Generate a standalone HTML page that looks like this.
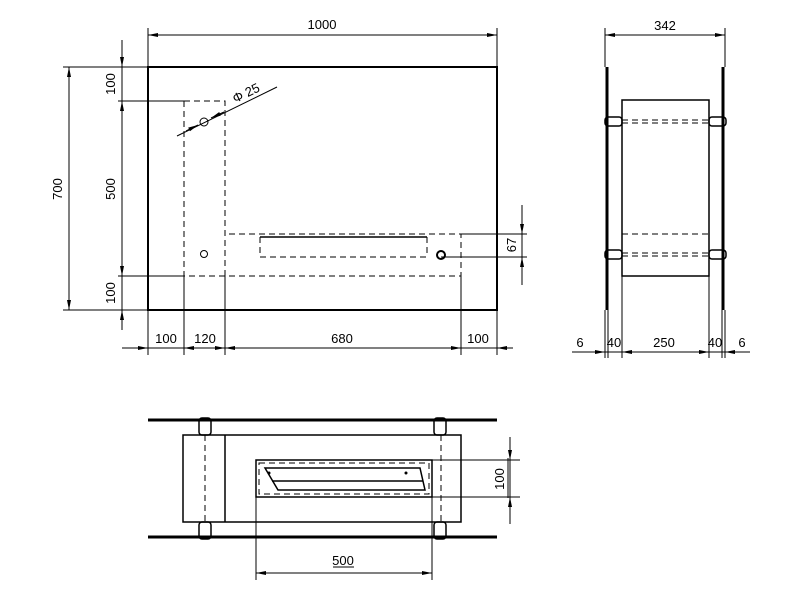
<!DOCTYPE html>
<html><head><meta charset="utf-8"><style>html,body{margin:0;padding:0;background:#fff}svg{display:block}</style></head>
<body>
<svg width="800" height="600" viewBox="0 0 800 600" xmlns="http://www.w3.org/2000/svg" font-family="Liberation Sans, sans-serif" font-size="13" fill="none" stroke="#000">
<defs>
<marker id="a" markerWidth="10" markerHeight="6" refX="10" refY="3" orient="auto-start-reverse" markerUnits="userSpaceOnUse"><path d="M0,1 L10,3 L0,5z" fill="#000" stroke="none"/></marker>
</defs>
<!-- FRONT VIEW -->
<rect x="148" y="67" width="349" height="243" stroke-width="2"/>
<g stroke-width="1">
<line x1="148" y1="28" x2="148" y2="67"/><line x1="497" y1="28" x2="497" y2="67"/>
<line x1="148" y1="35" x2="497" y2="35" marker-start="url(#a)" marker-end="url(#a)"/>
<line x1="63" y1="67" x2="148" y2="67"/><line x1="63" y1="310" x2="148" y2="310"/>
<line x1="69" y1="67" x2="69" y2="310" marker-start="url(#a)" marker-end="url(#a)"/>
<line x1="118" y1="101" x2="185" y2="101"/><line x1="118" y1="276" x2="185" y2="276"/>
<line x1="122" y1="40" x2="122" y2="330"/>
<line x1="122" y1="55" x2="122" y2="67" marker-end="url(#a)"/>
<line x1="122" y1="115" x2="122" y2="101" marker-end="url(#a)"/>
<line x1="122" y1="262" x2="122" y2="276" marker-end="url(#a)"/>
<line x1="122" y1="322" x2="122" y2="310" marker-end="url(#a)"/>
<line x1="148" y1="310" x2="148" y2="355"/><line x1="184" y1="276" x2="184" y2="355"/><line x1="225" y1="276" x2="225" y2="355"/><line x1="461" y1="276" x2="461" y2="355"/><line x1="497" y1="310" x2="497" y2="355"/>
<line x1="122" y1="348" x2="148" y2="348" marker-end="url(#a)"/>
<line x1="148" y1="348" x2="513" y2="348"/>
<line x1="198" y1="348" x2="184" y2="348" marker-end="url(#a)"/>
<line x1="211" y1="348" x2="225" y2="348" marker-end="url(#a)"/>
<line x1="239" y1="348" x2="225" y2="348" marker-end="url(#a)"/>
<line x1="447" y1="348" x2="461" y2="348" marker-end="url(#a)"/>
<line x1="513" y1="348" x2="497" y2="348" marker-end="url(#a)"/>
<line x1="177" y1="136" x2="277" y2="87"/>
<line x1="186" y1="131" x2="198" y2="125" marker-end="url(#a)"/>
<line x1="224" y1="112" x2="211" y2="118" marker-end="url(#a)"/>
<circle cx="204" cy="122" r="4"/><circle cx="204" cy="254" r="3.5"/><circle cx="441" cy="255" r="4" stroke-width="2"/>
<line x1="441" y1="257" x2="527" y2="257"/><line x1="461" y1="234" x2="527" y2="234"/>
<line x1="522" y1="205" x2="522" y2="285"/>
<line x1="522" y1="220" x2="522" y2="234" marker-end="url(#a)"/>
<line x1="522" y1="271" x2="522" y2="257" marker-end="url(#a)"/>
</g>
<g stroke-width="1" stroke-dasharray="6,4">
<path d="M184,101 H225 V276 M184,101 V276 H461 V234 H225"/>
<path d="M260,237 H427 M260,257 H427 M260,237 V257 M427,237 V257"/>
</g>
<line x1="260" y1="237" x2="427" y2="237" stroke-width="1.5"/>
<g fill="#000" stroke="none" font-size="13">
<text x="322" y="29" text-anchor="middle">1000</text>
<text transform="translate(62,189) rotate(-90)" text-anchor="middle">700</text>
<text transform="translate(115,84) rotate(-90)" text-anchor="middle">100</text>
<text transform="translate(115,189) rotate(-90)" text-anchor="middle">500</text>
<text transform="translate(115,293) rotate(-90)" text-anchor="middle">100</text>
<text transform="translate(516,245) rotate(-90)" text-anchor="middle">67</text>
<text x="166" y="343" text-anchor="middle">100</text>
<text x="205" y="343" text-anchor="middle">120</text>
<text x="342" y="343" text-anchor="middle">680</text>
<text x="478" y="343" text-anchor="middle">100</text>
<text transform="translate(248,97) rotate(-26)" text-anchor="middle">Φ 25</text>
</g>
<!-- SIDE VIEW -->
<g stroke-width="1">
<line x1="605" y1="28" x2="605" y2="67"/><line x1="725" y1="28" x2="725" y2="67"/>
<line x1="605" y1="35" x2="725" y2="35" marker-start="url(#a)" marker-end="url(#a)"/>
<rect x="622" y="100" width="87" height="176" stroke-width="1.5"/>
<line x1="605" y1="310" x2="605" y2="358"/><line x1="608" y1="310" x2="608" y2="358"/>
<line x1="622" y1="276" x2="622" y2="358"/><line x1="709" y1="276" x2="709" y2="358"/>
<line x1="722" y1="310" x2="722" y2="358"/><line x1="725" y1="310" x2="725" y2="358"/>
<line x1="572" y1="352" x2="750" y2="352"/>
<line x1="590" y1="352" x2="605" y2="352" marker-end="url(#a)"/>
<line x1="636" y1="352" x2="622" y2="352" marker-end="url(#a)"/>
<line x1="695" y1="352" x2="709" y2="352" marker-end="url(#a)"/>
<line x1="740" y1="352" x2="725" y2="352" marker-end="url(#a)"/>
</g>
<g stroke-width="3">
<line x1="607" y1="67" x2="607" y2="310"/><line x1="723" y1="67" x2="723" y2="310"/>
</g>
<g stroke-width="1.5">
<rect x="605" y="117" width="17" height="9" rx="3"/><rect x="709" y="117" width="17" height="9" rx="3"/>
<rect x="605" y="250" width="17" height="9" rx="3"/><rect x="709" y="250" width="17" height="9" rx="3"/>
</g>
<g stroke-width="1" stroke-dasharray="6,4">
<path d="M622,120 H709 M622,123 H709 M622,234 H709 M622,253 H709 M622,256 H709"/>
</g>
<g fill="#000" stroke="none">
<text x="665" y="30" text-anchor="middle">342</text>
<text x="580" y="347" text-anchor="middle">6</text>
<text x="614" y="347" text-anchor="middle">40</text>
<text x="664" y="347" text-anchor="middle">250</text>
<text x="715" y="347" text-anchor="middle">40</text>
<text x="742" y="347" text-anchor="middle">6</text>
</g>
<!-- TOP VIEW -->
<g stroke-width="3">
<line x1="148" y1="420" x2="497" y2="420"/><line x1="148" y1="537" x2="497" y2="537"/>
</g>
<g stroke-width="1.5">
<rect x="183" y="435" width="278" height="87"/>
<line x1="225" y1="435" x2="225" y2="522"/>
<rect x="256" y="460" width="176" height="37"/>
<rect x="199" y="418" width="12" height="17" rx="3"/><rect x="434" y="418" width="12" height="17" rx="3"/>
<rect x="199" y="522" width="12" height="17" rx="3"/><rect x="434" y="522" width="12" height="17" rx="3"/>
<path d="M265,468 H420 L425,490 H278 Z"/>
<line x1="272" y1="481" x2="423" y2="481"/>
</g>
<g stroke-width="1" stroke-dasharray="6,4">
<line x1="205" y1="435" x2="205" y2="522"/><line x1="441" y1="435" x2="441" y2="522"/>
<rect x="259" y="463" width="170" height="31"/>
</g>
<g stroke-width="1">
<line x1="432" y1="460" x2="520" y2="460"/><line x1="432" y1="497" x2="520" y2="497"/>
<line x1="510" y1="437" x2="510" y2="524"/>
<line x1="510" y1="446" x2="510" y2="460" marker-end="url(#a)"/>
<line x1="510" y1="511" x2="510" y2="497" marker-end="url(#a)"/>
<line x1="256" y1="497" x2="256" y2="580"/><line x1="432" y1="497" x2="432" y2="580"/>
<line x1="256" y1="573" x2="432" y2="573" marker-start="url(#a)" marker-end="url(#a)"/>
<line x1="333" y1="567" x2="354" y2="567"/>
<line x1="508" y1="458" x2="508" y2="498"/>
</g>
<g fill="#000" stroke="none">
<circle cx="269" cy="473" r="1.5"/><circle cx="406" cy="473" r="1.5"/>
<text x="343" y="565" text-anchor="middle">500</text>
<text transform="translate(504,479) rotate(-90)" text-anchor="middle">100</text>
</g>
</svg>
</body></html>
